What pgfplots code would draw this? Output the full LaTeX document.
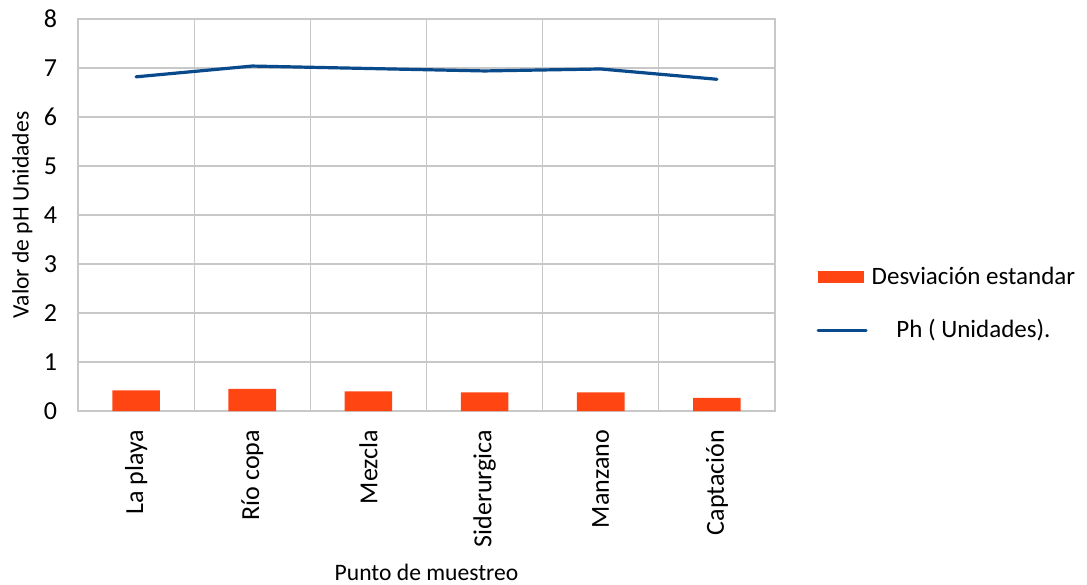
\documentclass[border=0pt]{standalone}
\usepackage{pgfplots}
\pgfplotsset{compat=1.18}
\usepackage{fontspec}
\setmainfont{Carlito}

\definecolor{barred}{RGB}{255,70,18}
\definecolor{phblue}{RGB}{8,74,140}
\definecolor{gridgray}{RGB}{200,200,200}

\begin{document}
\begin{tikzpicture}
\useasboundingbox (-39pt,-86.5pt) rectangle (504.5pt,205.5pt);
\begin{axis}[
  scale only axis,
  anchor=south west,
  at={(0,0)},
  width=348.5pt, height=196pt,
  xmin=-0.5, xmax=5.5,
  ymin=0, ymax=8,
  ytick={0,1,...,8},
  xtick={0,1,2,3,4,5},
  xticklabels={La playa, Río copa, Mezcla, Siderurgica, Manzano, Captación},
  minor xtick={-0.5,0.5,1.5,2.5,3.5,4.5,5.5},
  xminorgrids=true, ymajorgrids=true,
  grid style={gridgray, line width=0.6pt},
  minor grid style={gridgray, line width=0.6pt},
  axis line style={gridgray, line width=0.8pt},
  major tick length=0pt, minor tick length=0pt,
  tick style={draw=none},
  /pgf/number format/assume math mode=true,
  ticklabel style={font=\fontsize{13}{15}\selectfont},
  xticklabel style={rotate=90, anchor=east},
  xticklabel shift=6pt,
  yticklabel shift=7pt,
  xlabel={Punto de muestreo},
  ylabel={Valor de pH Unidades},
  every axis x label/.style={at={(axis description cs:0.5,-0.411)}, anchor=center,
    font=\fontsize{11.8}{14}\selectfont},
  every axis y label/.style={at={(axis description cs:-0.08,0.5)}, rotate=90, anchor=center,
    font=\fontsize{11.8}{14}\selectfont},
  legend style={draw=none, fill=none, at={(1.059,0.273)}, anchor=west,
    inner sep=0pt, row sep=12pt, font=\fontsize{12.5}{14}\selectfont},
  legend cell align=center,
]
% standard deviation bars
\addplot[ybar, bar width=0.41, fill=barred, draw=none,
  legend image code/.code={\fill[barred] (0pt,-3pt) rectangle (23pt,3pt);}]
  coordinates {(0,0.42) (1,0.45) (2,0.40) (3,0.38) (4,0.38) (5,0.27)};
\addlegendentry{Desviación estandar}
% mean pH per sampling point
\addplot[phblue, line width=1.6pt, line cap=round, line join=round, mark=none,
  legend image code/.code={\draw[phblue, line width=1.6pt, line cap=round] (0pt,0pt) -- (24pt,0pt);}]
  coordinates {(0,6.82) (1,7.04) (2,6.99) (3,6.94) (4,6.98) (5,6.77)};
\addlegendentry{Ph ( Unidades).}
\end{axis}
\end{tikzpicture}
\end{document}
